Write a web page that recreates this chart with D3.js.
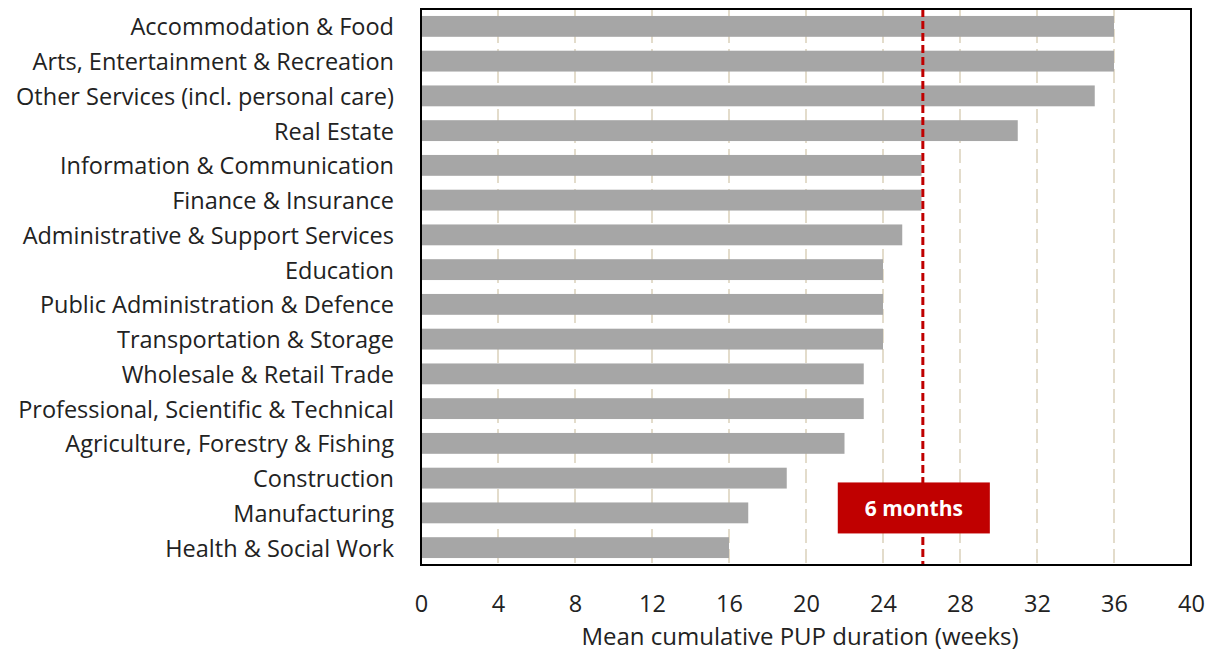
<!DOCTYPE html>
<html>
<head>
<meta charset="utf-8">
<script src="https://cdn.jsdelivr.net/npm/d3@7"></script>
<style>
  body { margin: 0; background: #fff; }
  svg { font-family: 'Open Sans', 'Noto Sans', sans-serif; }
</style>
</head>
<body>
<div id="chart"></div>
<script>
const categories = [
  'Accommodation & Food',
  'Arts, Entertainment & Recreation',
  'Other Services (incl. personal care)',
  'Real Estate',
  'Information & Communication',
  'Finance & Insurance',
  'Administrative & Support Services',
  'Education',
  'Public Administration & Defence',
  'Transportation & Storage',
  'Wholesale & Retail Trade',
  'Professional, Scientific & Technical',
  'Agriculture, Forestry & Fishing',
  'Construction',
  'Manufacturing',
  'Health & Social Work'
];
const weeks = [36, 36, 35, 31, 26, 26, 25, 24, 24, 24, 23, 23, 22, 19, 17, 16];
const xTicks = [0, 4, 8, 12, 16, 20, 24, 28, 32, 36, 40];
const sixMonths = 26.07;
const boxLabel = '6 months';
const boxRange = [21.65, 29.55]; // weeks

const W = 1215, H = 655;
const margin = {top: 9, right: 24, bottom: 90, left: 421};
const width = W - margin.left - margin.right;
const height = H - margin.top - margin.bottom;

const svg = d3.select('#chart').append('svg')
  .attr('width', W)
  .attr('height', H)
  .append('g')
  .attr('transform', 'translate(' + margin.left + ',' + margin.top + ')');

const x = d3.scaleLinear().domain([0, 40]).range([0, width]);
const y = d3.scaleBand().domain(categories).range([0, height]).paddingInner(0.4).paddingOuter(0.2);

// grid lines
svg.append('g')
  .selectAll('line')
  .data(xTicks.slice(1, -1))
  .enter().append('line')
  .attr('x1', d => x(d)).attr('x2', d => x(d))
  .attr('y1', 0).attr('y2', height)
  .attr('stroke', '#e3dccb')
  .attr('stroke-width', 2)
  .attr('stroke-dasharray', '14,6');

// bars
svg.selectAll('.bar')
  .data(categories)
  .enter().append('rect')
  .attr('class', 'bar')
  .attr('x', 0)
  .attr('y', d => y(d))
  .attr('width', (d, i) => x(weeks[i]))
  .attr('height', y.bandwidth())
  .attr('fill', '#a6a6a6');

// 6 months line
svg.append('line')
  .attr('x1', x(sixMonths)).attr('x2', x(sixMonths))
  .attr('y1', 0).attr('y2', height)
  .attr('stroke', '#c00000')
  .attr('stroke-width', 3)
  .attr('stroke-dasharray', '8,4');

// label box
const boxY = y(categories[14]) - 20;
svg.append('rect')
  .attr('x', x(boxRange[0]))
  .attr('y', boxY)
  .attr('width', x(boxRange[1]) - x(boxRange[0]))
  .attr('height', 51)
  .attr('fill', '#c00000');
svg.append('text')
  .attr('x', (x(boxRange[0]) + x(boxRange[1])) / 2)
  .attr('y', boxY + 26)
  .attr('text-anchor', 'middle')
  .attr('dominant-baseline', 'central')
  .attr('fill', '#fff')
  .style('font-size', '21px')
  .style('font-weight', 'bold')
  .text(boxLabel);

// frame
svg.append('rect')
  .attr('x', 0).attr('y', 0)
  .attr('width', width).attr('height', height)
  .attr('fill', 'none')
  .attr('stroke', '#000')
  .attr('stroke-width', 2);

// category labels
svg.append('g')
  .selectAll('text')
  .data(categories)
  .enter().append('text')
  .attr('x', -27)
  .attr('y', d => y(d) + y.bandwidth() / 2)
  .attr('text-anchor', 'end')
  .attr('dominant-baseline', 'central')
  .attr('fill', '#222')
  .style('font-size', '23.5px')
  .text(d => d);

// x axis labels
const xAxis = d3.axisBottom(x).tickValues(xTicks).tickSize(0).tickPadding(30);
const gx = svg.append('g')
  .attr('transform', 'translate(0,' + height + ')')
  .call(xAxis);
gx.select('.domain').remove();
gx.selectAll('text')
  .style('font-size', '23.5px')
  .style('font-family', "'Open Sans', 'Noto Sans', sans-serif")
  .attr('fill', '#222');

svg.append('text')
  .attr('x', width / 2 - 6)
  .attr('y', height + 80)
  .attr('text-anchor', 'middle')
  .attr('fill', '#222')
  .style('font-size', '24px')
  .text('Mean cumulative PUP duration (weeks)');
</script>
</body>
</html>
